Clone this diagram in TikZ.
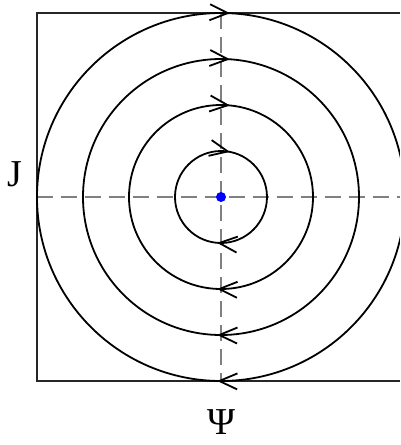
\documentclass[tikz,border=0pt]{standalone}
\usepackage{fontspec}
\setmainfont{Liberation Serif}
\usetikzlibrary{arrows.meta,decorations.markings}
\definecolor{axisgray}{HTML}{808080}
\definecolor{dotblue}{HTML}{0000FF}
\tikzset{
  frame/.style={draw=black!85, line width=1.1pt},
  axis/.style={draw=axisgray, line width=1.4pt, dash pattern=on 16pt off 8pt},
  orbit/.style={draw=black, line width=1.8pt},
  fixpt/.style={circle, fill=dotblue, minimum size=10pt, inner sep=0pt},
  lbl/.style={font=\fontsize{38}{42}\selectfont, inner sep=0pt},
}

\begin{document}
\begin{tikzpicture}[x=1pt,y=1pt]
\useasboundingbox (-221,-248) rectangle (179,197);
\clip (-221,-248) rectangle (179,197);

% ----- frame and axes -----
\coordinate (nw) at (-184,184);
\coordinate (se) at (200,-184);
\draw[frame] (nw) rectangle (se);
\draw[axis] (-184,0) -- (200,0);
\draw[axis] (0,184) -- (0,-184);

% ----- orbits, clockwise -----
\foreach \r in {46,92,138,184}{
  \pgfmathsetmacro{\qtop}{0.5*pi*\r+9}
  \pgfmathsetmacro{\qbot}{1.5*pi*\r+4}
  \draw[orbit, postaction={decorate, decoration={markings,
      mark=at position \qtop pt with {\arrow{Straight Barb[length=18pt,width=16pt]}},
      mark=at position \qbot pt with {\arrow{Straight Barb[length=18pt,width=16pt]}}}}]
    (-\r,0) arc[start angle=180, end angle=-180, radius=\r];
}

% ----- fixed point -----
\node[fixpt] (centre) at (0,0) {};

% ----- labels -----
\node[lbl] (jlabel) at (-206,23) {J};
\node[lbl] (psilabel) at (1,-225) {Ψ};

\end{tikzpicture}
\end{document}
